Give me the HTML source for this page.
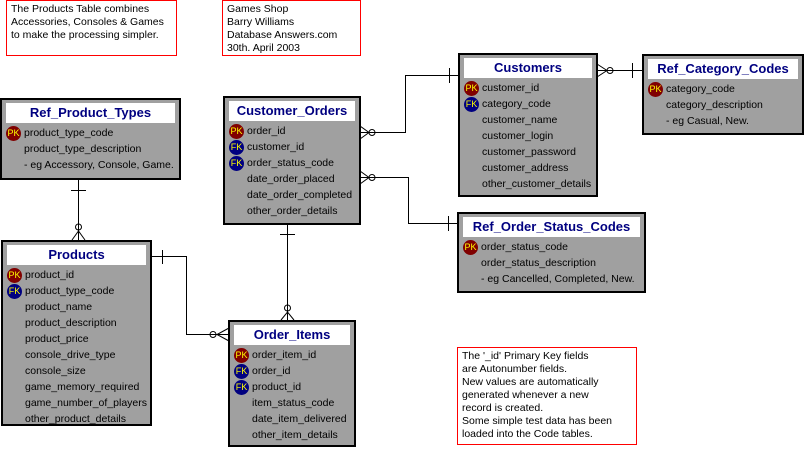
<!DOCTYPE html>
<html><head><style>
body{margin:0;width:806px;height:451px;background:#fff;position:relative;overflow:hidden;font-family:"Liberation Sans",sans-serif;}
.ent{position:absolute;background:#a0a0a0;border:2px solid #000;box-sizing:border-box;}
.t{position:absolute;left:4px;right:4px;top:3px;height:20px;background:#fff;color:#000080;font-weight:bold;font-size:13px;text-align:center;line-height:20px;}
.r{position:absolute;left:22px;font-size:10.5px;color:#000;white-space:nowrap;line-height:16px;}
.k{position:absolute;left:4px;width:15px;height:15px;border-radius:50%;font-size:9px;color:#ff0;text-align:center;line-height:15px;font-weight:normal;}
.pk{background:#800000}.fk{background:#000080}
.note{position:absolute;border:1px solid #f00;background:#fff;font-size:10.5px;line-height:13px;padding:2px 4px;box-sizing:border-box;}
</style></head><body>
<div class="note" style="left:6px;top:0;width:171px;height:56px">The Products Table combines<br>Accessories, Consoles &amp; Games<br>to make the processing simpler.</div>
<div class="note" style="left:222px;top:0;width:139px;height:56px">Games Shop<br>Barry Williams<br>Database Answers.com<br>30th. April 2003</div>
<div class="note" style="left:457px;top:347px;width:180px;height:98px">The '_id' Primary Key fields<br>are Autonumber fields.<br>New values are automatically<br>generated whenever a new<br>record is created.<br>Some simple test data has been<br>loaded into the Code tables.</div>

<svg width="806" height="451" style="position:absolute;left:0;top:0" fill="none" stroke="#000" stroke-width="1">
<path d="M78.5 180V241M71 190.5H86"/>
<circle cx="78.5" cy="227" r="3"/><path d="M72 240L78.5 231L85 240"/>
<path d="M151 256.5H186.5V334.5H229M162.5 250V264"/>
<circle cx="213" cy="334.5" r="3"/><path d="M229 328L217 334.5L229 341"/>
<path d="M287.5 224V320M280 234.5H295"/>
<circle cx="287.5" cy="308" r="3"/><path d="M281 320L287.5 312L294 320"/>
<path d="M360 132.5H405.5V75.5H459M449.5 68V83"/>
<circle cx="372" cy="132.5" r="3"/><path d="M360 126L369 132.5L360 139"/>
<path d="M360 177.5H408.5V223.5H458M448.5 216V231"/>
<circle cx="372" cy="177.5" r="3"/><path d="M360 171L369 177.5L360 184"/>
<path d="M597 70.5H643M632.5 63V78"/>
<circle cx="610" cy="70.5" r="3"/><path d="M597 64L607 70.5L597 77"/>
</svg>

<div class="ent" style="left:0;top:98px;width:181px;height:82px"><div class="t">Ref_Product_Types</div>
<div class="k pk" style="top:26px">PK</div><div class="r" style="top:25px">product_type_code</div>
<div class="r" style="top:41px">product_type_description</div>
<div class="r" style="top:57px">- eg Accessory, Console, Game.</div></div>

<div class="ent" style="left:1px;top:240px;width:151px;height:186px"><div class="t">Products</div>
<div class="k pk" style="top:26px">PK</div><div class="r" style="top:25px">product_id</div>
<div class="k fk" style="top:42px">FK</div><div class="r" style="top:41px">product_type_code</div>
<div class="r" style="top:57px">product_name</div>
<div class="r" style="top:73px">product_description</div>
<div class="r" style="top:89px">product_price</div>
<div class="r" style="top:105px">console_drive_type</div>
<div class="r" style="top:121px">console_size</div>
<div class="r" style="top:137px">game_memory_required</div>
<div class="r" style="top:153px">game_number_of_players</div>
<div class="r" style="top:169px">other_product_details</div></div>

<div class="ent" style="left:223px;top:96px;width:138px;height:129px"><div class="t">Customer_Orders</div>
<div class="k pk" style="top:26px">PK</div><div class="r" style="top:25px">order_id</div>
<div class="k fk" style="top:42px">FK</div><div class="r" style="top:41px">customer_id</div>
<div class="k fk" style="top:58px">FK</div><div class="r" style="top:57px">order_status_code</div>
<div class="r" style="top:73px">date_order_placed</div>
<div class="r" style="top:89px">date_order_completed</div>
<div class="r" style="top:105px">other_order_details</div></div>

<div class="ent" style="left:228px;top:320px;width:128px;height:127px"><div class="t">Order_Items</div>
<div class="k pk" style="top:26px">PK</div><div class="r" style="top:25px">order_item_id</div>
<div class="k fk" style="top:42px">FK</div><div class="r" style="top:41px">order_id</div>
<div class="k fk" style="top:58px">FK</div><div class="r" style="top:57px">product_id</div>
<div class="r" style="top:73px">item_status_code</div>
<div class="r" style="top:89px">date_item_delivered</div>
<div class="r" style="top:105px">other_item_details</div></div>

<div class="ent" style="left:458px;top:53px;width:140px;height:144px"><div class="t">Customers</div>
<div class="k pk" style="top:26px">PK</div><div class="r" style="top:25px">customer_id</div>
<div class="k fk" style="top:42px">FK</div><div class="r" style="top:41px">category_code</div>
<div class="r" style="top:57px">customer_name</div>
<div class="r" style="top:73px">customer_login</div>
<div class="r" style="top:89px">customer_password</div>
<div class="r" style="top:105px">customer_address</div>
<div class="r" style="top:121px">other_customer_details</div></div>

<div class="ent" style="left:642px;top:54px;width:162px;height:81px"><div class="t">Ref_Category_Codes</div>
<div class="k pk" style="top:26px">PK</div><div class="r" style="top:25px">category_code</div>
<div class="r" style="top:41px">category_description</div>
<div class="r" style="top:57px">- eg Casual, New.</div></div>

<div class="ent" style="left:457px;top:212px;width:189px;height:81px"><div class="t">Ref_Order_Status_Codes</div>
<div class="k pk" style="top:26px">PK</div><div class="r" style="top:25px">order_status_code</div>
<div class="r" style="top:41px">order_status_description</div>
<div class="r" style="top:57px">- eg Cancelled, Completed, New.</div></div>
</body></html>
